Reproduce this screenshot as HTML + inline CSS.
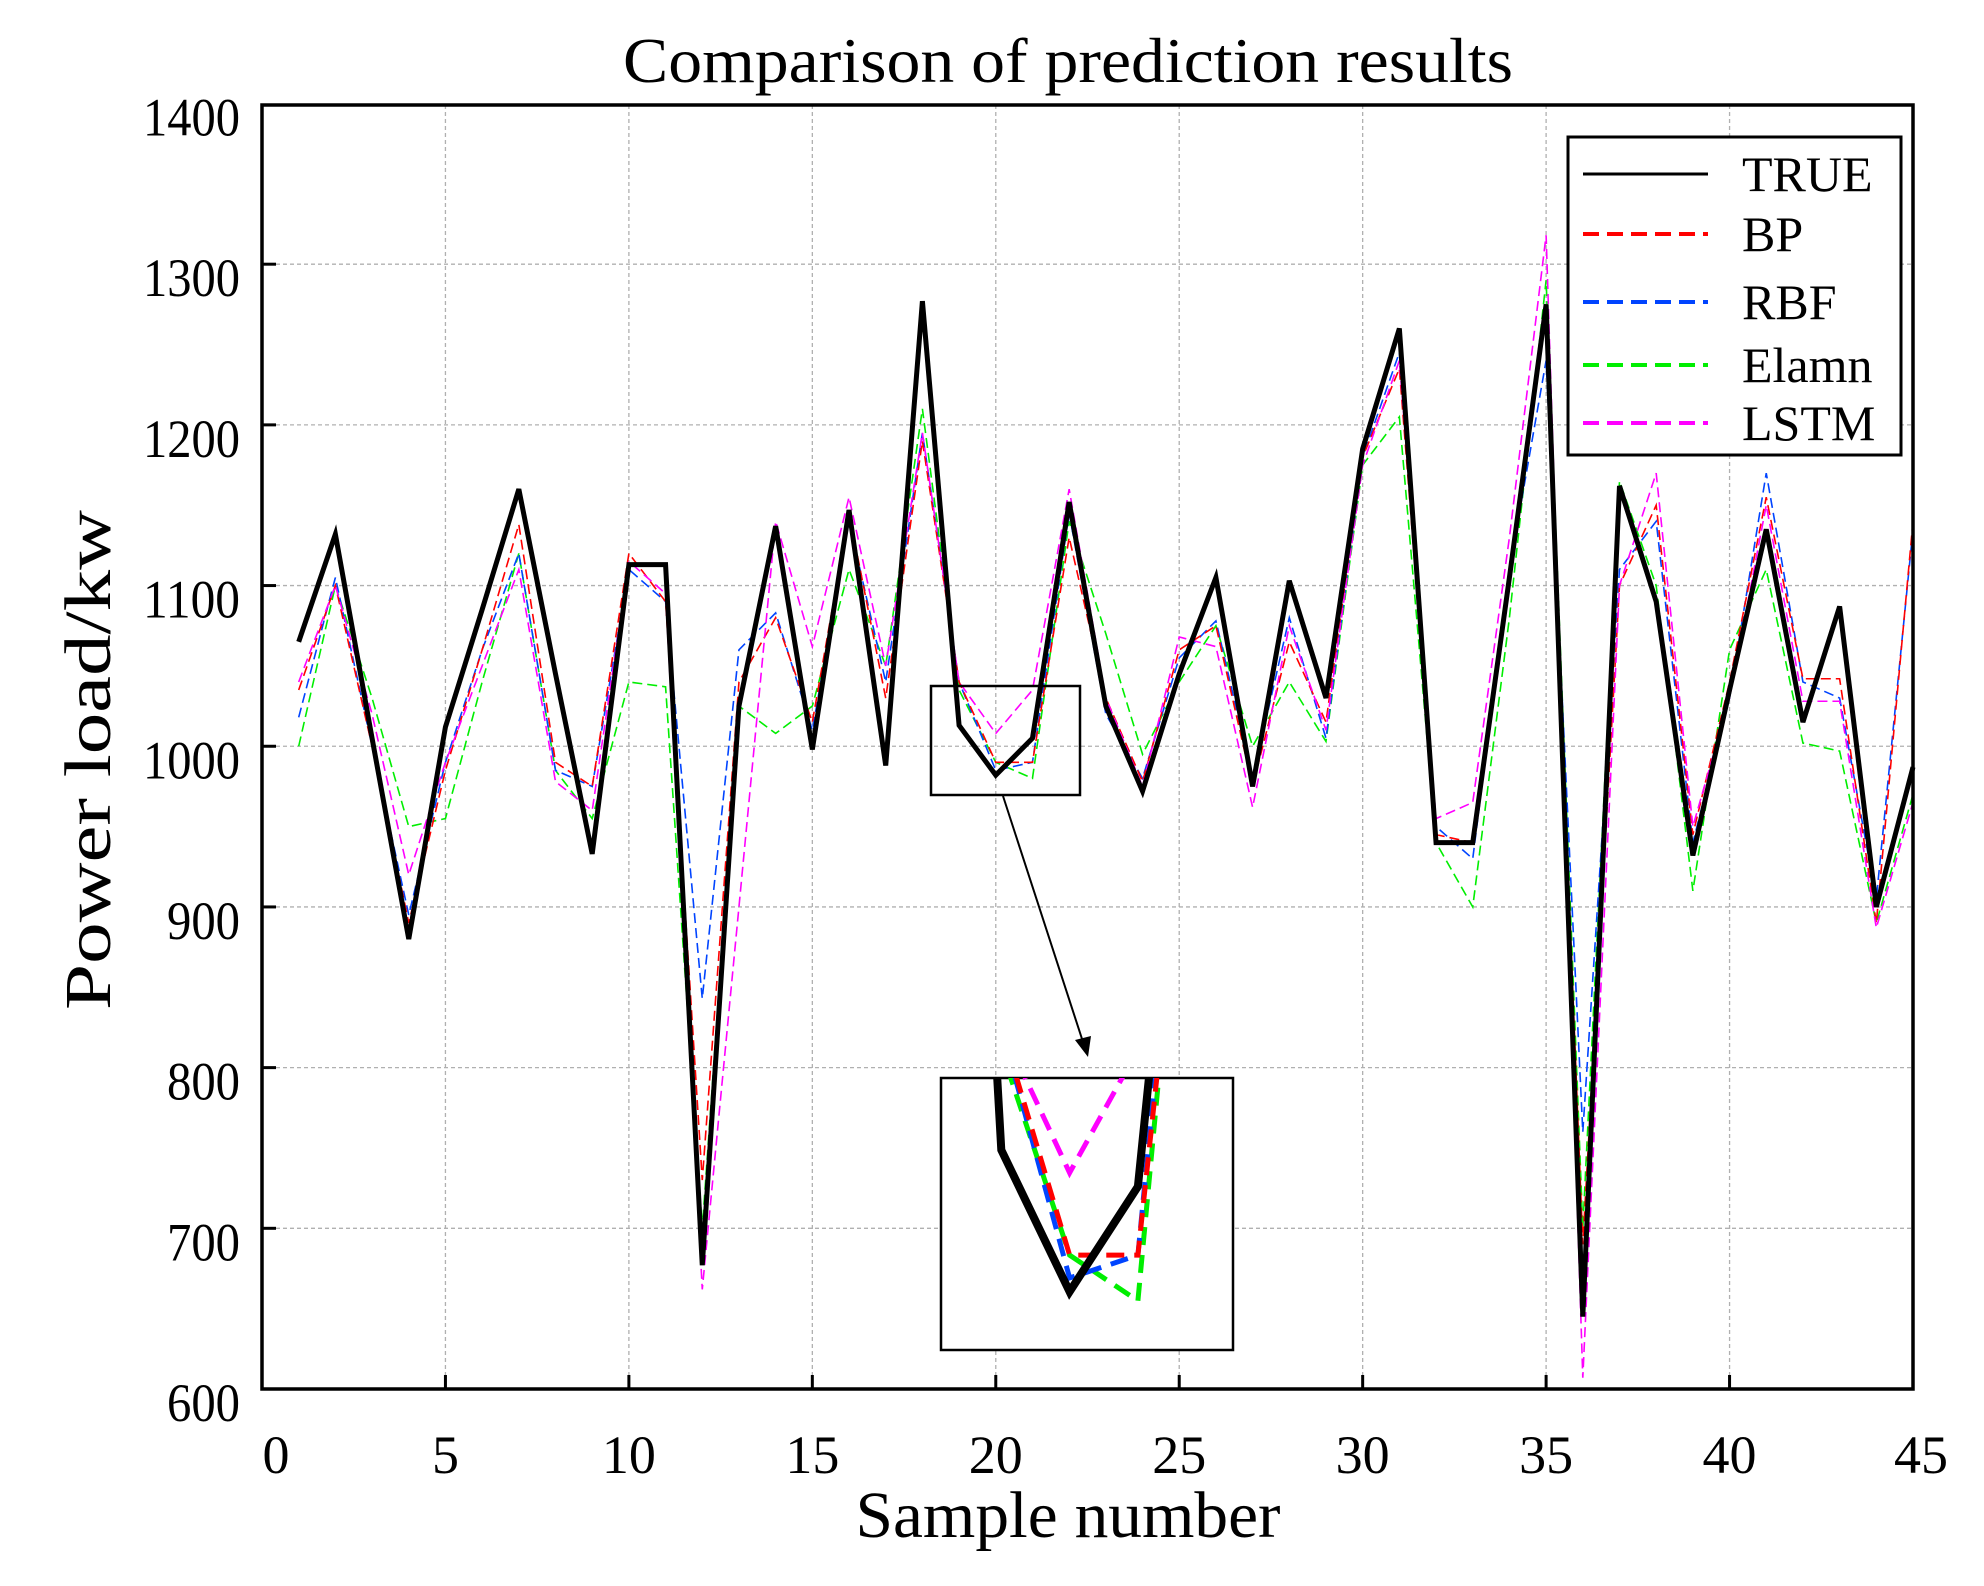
<!DOCTYPE html>
<html><head><meta charset="utf-8"><style>
html,body{margin:0;padding:0;background:#fff;overflow:hidden;width:1984px;height:1586px;}
svg{display:block;font-family:"Liberation Serif",serif;}
</style></head><body>
<svg id="chart" width="1984" height="1586" viewBox="0 0 1984 1586" xmlns="http://www.w3.org/2000/svg">
<text x="1068" y="82" font-size="64" text-anchor="middle" textLength="890" lengthAdjust="spacingAndGlyphs">Comparison of prediction results</text>
<text x="1068" y="1537" font-size="66" text-anchor="middle" textLength="425" lengthAdjust="spacingAndGlyphs">Sample number</text>
<text transform="translate(110,760) rotate(-90)" font-size="66" text-anchor="middle" textLength="500" lengthAdjust="spacingAndGlyphs">Power load/kw</text>
<g id="grid"></g>
<g id="series"></g>
<g id="axes"></g>
<g id="legend"></g>
<g id="inset"></g>
</svg>
<script>
const xTicks=[0,5,10,15,20,25,30,35,40,45];
const yTicks=[600,700,800,900,1000,1100,1200,1300,1400];
const seriesNames=["TRUE","BP","RBF","Elamn","LSTM"];
const trueVals=[1065,1132,1005,880,1012,1085,1160,1045,933,1113,1113,677,1025,1137,998,1147,988,1277,1013,982,1005,1152,1025,972,1045,1105,975,1103,1030,1185,1260,940,940,1105,1275,645,1162,1090,932,1035,1135,1015,1087,900,987];
const bpVals=[1035,1100,1000,890,985,1060,1138,990,975,1120,1090,730,1040,1080,1015,1145,1030,1190,1040,990,990,1130,1030,978,1060,1075,975,1065,1015,1180,1235,945,940,1100,1270,690,1100,1150,945,1040,1155,1042,1042,890,1140];
const rbfVals=[1018,1105,1000,895,990,1060,1120,985,975,1110,1090,843,1060,1083,1010,1140,1040,1195,1040,985,990,1145,1020,980,1055,1078,980,1080,1005,1180,1245,950,930,1110,1240,760,1110,1140,940,1030,1170,1040,1030,905,1135];
const elmanVals=[1000,1100,1030,950,955,1040,1120,985,955,1040,1037,700,1025,1008,1025,1110,1050,1210,1035,990,980,1140,1070,995,1040,1075,1000,1040,1003,1175,1205,940,900,1080,1290,700,1165,1100,910,1060,1110,1002,997,890,970];
const lstmVals=[1040,1100,1020,920,990,1050,1110,978,960,1115,1095,662,900,1140,1062,1155,1050,1195,1040,1008,1035,1160,1030,975,1068,1062,962,1075,1010,1175,1240,955,965,1130,1318,607,1100,1170,950,1030,1150,1028,1028,887,965];

const NS="http://www.w3.org/2000/svg";
const L=262,R=1913,T=105,B=1389;
const xs=v=>L+(v-0)/(45-0)*(R-L);
const ys=v=>B-(v-600)/(1400-600)*(B-T+1.5);
function mk(tag,attrs,parent){const e=document.createElementNS(NS,tag);for(const k in attrs)e.setAttribute(k,attrs[k]);parent.appendChild(e);return e;}
const grid=document.getElementById('grid'),axes=document.getElementById('axes'),ser=document.getElementById('series');
xTicks.forEach(t=>{
  if(t>0&&t<45){const g=mk('line',{x1:xs(t),x2:xs(t),y1:T,y2:B,stroke:'#b0b0b0','stroke-width':1.3,'stroke-dasharray':'4 3'},grid);
  
  
  const tk=mk('line',{x1:xs(t),x2:xs(t),y1:B,y2:B-14,stroke:'#000','stroke-width':3},axes);
  
  }
  const tx=mk('text',{x:xs(t)+(t===0?14:t===45?8:0),y:1473,'font-size':54,'text-anchor':'middle'},axes);tx.textContent=t;
  
  
});
yTicks.forEach(t=>{
  if(t>600&&t<1400){const g=mk('line',{x1:L,x2:R,y1:ys(t),y2:ys(t),stroke:'#b0b0b0','stroke-width':1.3,'stroke-dasharray':'4 3'},grid);
  
  
  const tk=mk('line',{x1:L,x2:L+14,y1:ys(t),y2:ys(t),stroke:'#000','stroke-width':3},axes);
  
  }
  const tx=mk('text',{x:240,y:ys(t)+32,'font-size':54,'text-anchor':'end',textLength:97,lengthAdjust:'spacingAndGlyphs'},axes);tx.textContent=t;
  if(t<1000){tx.setAttribute('textLength',73);}
  
  
});
const frame=mk('rect',{x:L,y:T,width:R-L,height:B-T,fill:'none',stroke:'#000','stroke-width':3.5},axes);



const defs=[
 {v:elmanVals,c:'#00ee00',w:1.6,d:'10 5',n:'elman-line'},
 {v:rbfVals,c:'#0044ff',w:1.6,d:'10 5',n:'rbf-line'},
 {v:bpVals,c:'#ff0000',w:1.6,d:'10 5',n:'bp-line'},
 {v:lstmVals,c:'#ff00ff',w:1.6,d:'10 5',n:'lstm-line'},
 {v:trueVals,c:'#000',w:5,d:'',n:'true-line'}];
function pts(v,fx,fy){return v.map((y,i)=>fx(i+1)+','+fy(y)).join(' ');}
defs.forEach(s=>{
  const p=mk('polyline',{points:pts(s.v,xs,ys),fill:'none',stroke:s.c,'stroke-width':s.w,'stroke-linejoin':'miter'},ser);
  if(s.d)p.setAttribute('stroke-dasharray',s.d);
  
  
});

const lg=document.getElementById('legend');
const lb=mk('rect',{x:1568,y:137,width:333,height:318,fill:'#fff',stroke:'#000','stroke-width':3},lg);


const lc=['#000','#ff0000','#0044ff','#00ee00','#ff00ff'];
const ly=[174,234,302,365,423];
seriesNames.forEach((n,i)=>{
  const ln=mk('line',{x1:1583,x2:1708,y1:ly[i],y2:ly[i],stroke:lc[i],'stroke-width':i===0?3:4},lg);
  if(i>0)ln.setAttribute('stroke-dasharray','16 8');
  
  
  const t=mk('text',{x:1742,y:ly[i]+17,'font-size':50},lg);t.textContent=n;
  
  
});

const ins=document.getElementById('inset');
const sr=mk('rect',{x:931,y:686,width:149,height:109,fill:'none',stroke:'#000','stroke-width':2.5},ins);


const ar=mk('line',{x1:1003,y1:796,x2:1083,y2:1042,stroke:'#000','stroke-width':2},ins);


const ah=mk('polygon',{points:'1088,1057 1075,1040 1091,1036',fill:'#000'},ins);


mk('clipPath',{id:'ic'},ins).appendChild(document.createElementNS(NS,'rect'));
const cr=document.querySelector('#ic rect');cr.setAttribute('x',941);cr.setAttribute('y',1078);cr.setAttribute('width',292);cr.setAttribute('height',272);
const ib=mk('rect',{x:941,y:1078,width:292,height:272,fill:'#fff',stroke:'#000','stroke-width':2.5},ins);


const ig=mk('g',{'clip-path':'url(#ic)'},ins);
const sx=v=>941+(xs(v)-931)*292/149*0.95+8;
const sy=v=>1078+(ys(v)-686)*272/109*1.14-40;
defs.forEach(s=>{
  const p=mk('polyline',{points:pts(s.v,sx,sy),fill:'none',stroke:s.c,'stroke-width':s.w===5?8:5,'stroke-linejoin':'miter'},ig);
  if(s.d)p.setAttribute('stroke-dasharray','18 10');
  
  
});
</script>
</body></html>
